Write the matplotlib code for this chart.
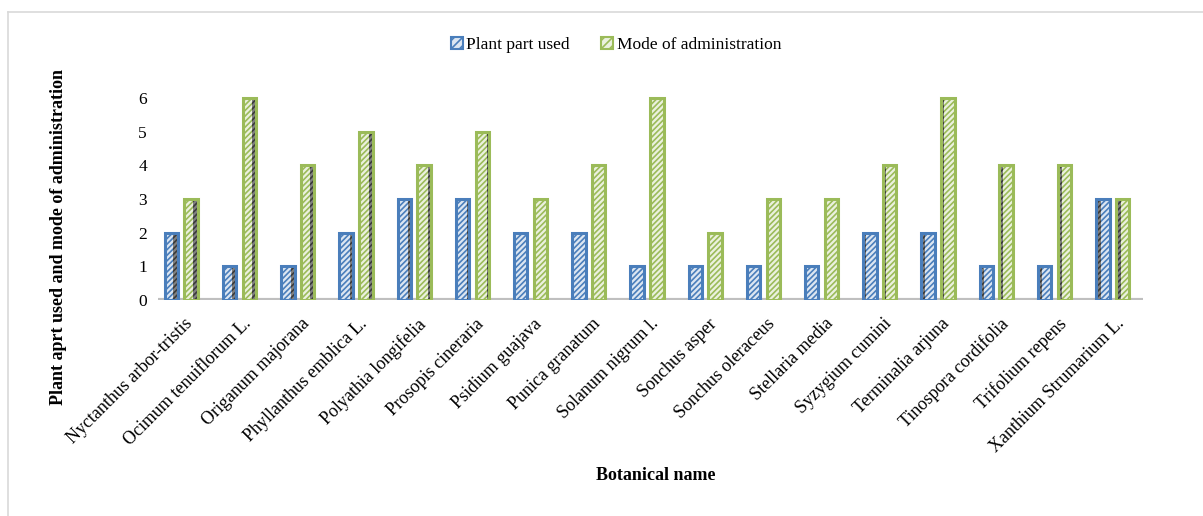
import matplotlib.pyplot as plt
import matplotlib.patches as mpatches
from matplotlib.lines import Line2D
import numpy as np

plt.rcParams['font.family'] = ['Liberation Serif', 'DejaVu Serif']
plt.rcParams['hatch.linewidth'] = 1.2

# --- data ---
species = ["Nyctanthus arbor-tristis", "Ocimum tenuiflorum L.", "Origanum majorana",
           "Phyllanthus emblica L.", "Polyathia longifelia", "Prosopis cineraria",
           "Psidium guajava", "Punica granatum", "Solanum nigrum l.", "Sonchus asper",
           "Sonchus oleraceus", "Stellaria media", "Syzygium cumini", "Terminalia arjuna",
           "Tinospora cordifolia", "Trifolium repens", "Xanthium Strumarium L."]
plant_part = [2, 1, 1, 2, 3, 3, 2, 2, 1, 1, 1, 1, 2, 2, 1, 1, 3]
mode_admin = [3, 6, 4, 5, 4, 5, 3, 4, 6, 2, 3, 3, 4, 6, 4, 4, 3]
y_ticks = [0, 1, 2, 3, 4, 5, 6]

blue_edge, blue_fill = "#4a7ebb", "#dce6f2"
green_edge, green_fill = "#9bbb59", "#ebf1de"

fig = plt.figure(figsize=(12.03, 5.16), dpi=100)
ax = fig.add_axes([158 / 1203, 1 - 300 / 516, (1143 - 158) / 1203, 219 / 516])

x = np.arange(len(species))
w = 0.23
off = 0.17
mid = (len(species) - 1) / 2


def draw_series(pos, vals, edge, fill):
    # hatched body
    ax.bar(pos, vals, w, color=fill, edgecolor=edge, hatch="//////", linewidth=0, zorder=2)
    # dark side face of the pseudo-3D column, wider away from the centre
    for i, (p, v) in enumerate(zip(pos, vals)):
        depth = 0.011 * abs(i - mid)
        if depth < 0.03:
            continue
        side = 1 if i < mid else -1
        ax.bar(p + side * (w / 2 - depth / 2), v, depth, color="#808080",
               edgecolor="#3a3a3a", hatch="//////", linewidth=0, zorder=2.5)
    # heavy outline on top
    ax.bar(pos, vals, w, fill=False, edgecolor=edge, linewidth=2.2, zorder=3)


draw_series(x - off, plant_part, blue_edge, blue_fill)
draw_series(x + off, mode_admin, green_edge, green_fill)

ax.set_xlim(-0.4, 16.52)
ax.set_ylim(0, 6.5)
ax.axhline(0, color="#bfbfbf", linewidth=3, zorder=1)

for s in ax.spines.values():
    s.set_visible(False)

ax.set_yticks(y_ticks)
ax.set_yticklabels([str(v) for v in y_ticks], fontsize=12.5)
ax.tick_params(axis="y", length=0, pad=8)
ax.set_xticks(x + 0.05)
ax.set_xticklabels(species, rotation=45, ha="right", rotation_mode="anchor", fontsize=13)
ax.tick_params(axis="x", length=0, pad=11)

fig.text(59 / 1203, 1 - 237 / 516, "Plant aprt used and mode of administration", rotation=90,
         ha="center", va="center", fontsize=13, fontweight="bold")
fig.text(656 / 1203, 1 - 476 / 516, "Botanical name", ha="center", va="center",
         fontsize=13, fontweight="bold")

handles = [mpatches.Patch(facecolor=blue_fill, edgecolor=blue_edge, hatch="////", linewidth=1.5, label="Plant part used"),
           mpatches.Patch(facecolor=green_fill, edgecolor=green_edge, hatch="////", linewidth=1.5, label="Mode of administration")]
fig.legend(handles=handles, loc="center", bbox_to_anchor=(616 / 1203, 1 - 45 / 516), ncol=2,
           frameon=False, fontsize=12.5, handlelength=0.7, handleheight=0.7, handletextpad=0.2,
           columnspacing=1.8)

# light frame on the top and left edges
fig.add_artist(Line2D([8 / 1203, 8 / 1203], [0, 1 - 12 / 516], color="#d9d9d9", linewidth=1.2))
fig.add_artist(Line2D([8 / 1203, 1], [1 - 12 / 516, 1 - 12 / 516], color="#d9d9d9", linewidth=1.2))

fig.savefig("out.png", dpi=100)
